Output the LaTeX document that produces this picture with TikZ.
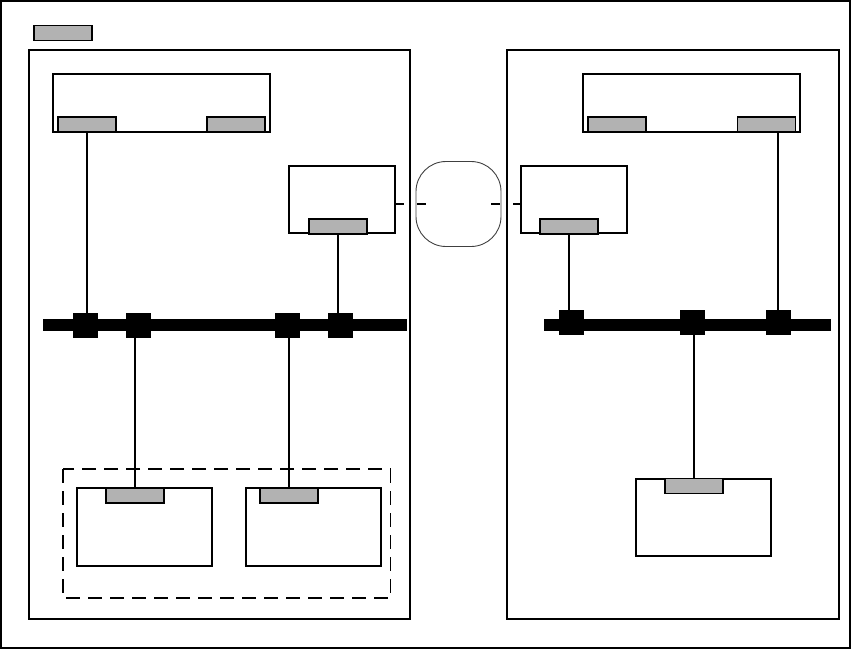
\documentclass[tikz,border=0pt]{standalone}
\begin{document}
\begin{tikzpicture}[x=1pt,y=-1pt,
  box/.style={draw,line width=1.2pt,fill=white,inner sep=0pt,outer sep=0pt},
  port/.style={draw,line width=1.2pt,fill=black!30,inner sep=0pt,outer sep=0pt,minimum width=58pt,minimum height=15pt},
  busbar/.style={fill=black,inner sep=0pt,outer sep=0pt,minimum height=12pt},
  tap/.style={fill=black,inner sep=0pt,outer sep=0pt,minimum width=25pt,minimum height=25pt},
  wire/.style={line width=1.3pt},
  link/.style={line width=2pt,dash pattern=on 9pt off 13pt}]
\useasboundingbox (0,0) rectangle (851,649);
\node[draw,line width=1.2pt,inner sep=0pt,minimum width=849pt,minimum height=647pt] (frame) at (425.5,324.5) {};
% legend
\node[port] (legend) at (63,33) {};
% panels
\node[box,minimum width=381pt,minimum height=569pt] (panL) at (219.5,334.5) {};
\node[box,minimum width=332pt,minimum height=569pt] (panR) at (673,334.5) {};
% top boxes
\node[box,minimum width=217pt,minimum height=58pt] (topL) at (161.5,103) {};
\node[port] (tLp1) at (87,124.5) {};
\node[port] (tLp2) at (236,124.5) {};
\node[box,minimum width=217pt,minimum height=58pt] (topR) at (691.5,103) {};
\node[port] (tRp1) at (617,124.5) {};
\node[port] (tRp2) at (766.5,124.5) {};
% middle boxes
\node[box,minimum width=106pt,minimum height=67pt] (midL) at (342,199.5) {};
\node[port] (mLp) at (338,226.5) {};
\node[box,minimum width=106pt,minimum height=67pt] (midR) at (574,199.5) {};
\node[port] (mRp) at (569,226.5) {};
% cloud
\node[draw=black!75,line width=0.9pt,rounded corners=30pt,inner sep=0pt,minimum width=85pt,minimum height=85pt] (cloud) at (458.5,204) {};
\draw[link] (cloud.west -| midL.east) -- ([xshift=10pt]cloud.west);
\draw[link] ([xshift=-10pt]cloud.east) -- (cloud.east -| midR.west);
% buses
\node[busbar,minimum width=364pt] (busL) at (225,325) {};
\node[tap] (sL1) at (85,325) {};
\node[tap] (sL2) at (138,325) {};
\node[tap] (sL3) at (287.5,325) {};
\node[tap] (sL4) at (340,325) {};
\node[busbar,minimum width=287pt] (busR) at (687.5,325) {};
\node[tap] (sR1) at (571.5,322.5) {};
\node[tap] (sR2) at (692.5,322.5) {};
\node[tap] (sR3) at (778,322.5) {};
% bottom group
\draw[line width=1.2pt,dash pattern=on 14pt off 8pt] (63,469) rectangle (390.5,598);
\node[box,minimum width=135pt,minimum height=78pt] (bL1) at (144.5,527) {};
\node[port] (bL1p) at (135,495.5) {};
\node[box,minimum width=135pt,minimum height=78pt] (bL2) at (313.5,527) {};
\node[port] (bL2p) at (289,495.5) {};
\node[box,minimum width=135pt,minimum height=77pt] (bR) at (703.5,517.5) {};
\node[port] (bRp) at (694,486) {};
% wires
\draw[wire] (tLp1.south) -- (tLp1.south |- sL1.north);
\draw[wire] (mLp.south) -- (mLp.south |- sL4.north);
\draw[wire] (bL1p.north |- sL2.south) -- (bL1p.north);
\draw[wire] (bL2p.north |- sL3.south) -- (bL2p.north);
\draw[wire] (mRp.south) -- (mRp.south |- sR1.north);
\draw[wire] (sR3.north) -- (sR3.north |- tRp2.south);
\draw[wire] (bRp.north |- sR2.south) -- (bRp.north);
\end{tikzpicture}
\end{document}
